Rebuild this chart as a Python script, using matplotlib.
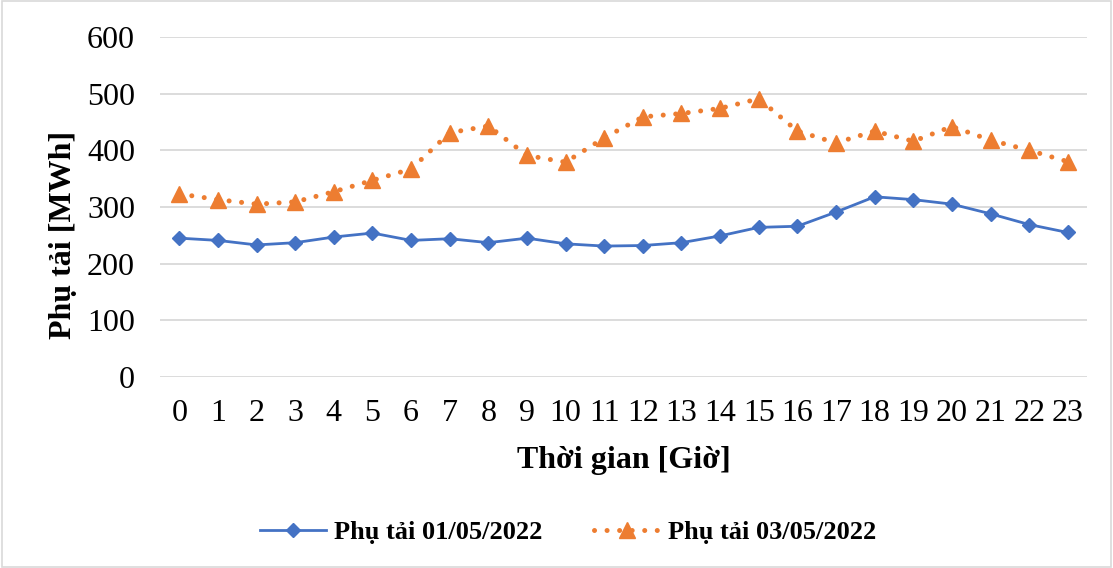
import matplotlib.pyplot as plt
from matplotlib.patches import Rectangle

plt.rcParams['font.family'] = ['Liberation Serif', 'DejaVu Serif']

hours = list(range(24))
load_0105 = [245, 241, 233, 237, 247, 254, 241, 244, 237, 245, 235, 231,
             232, 237, 249, 264, 266, 291, 318, 313, 305, 288, 269, 255]
load_0305 = [323, 313, 305, 309, 327, 347, 367, 431, 443, 391, 379, 422,
             459, 465, 474, 491, 434, 413, 434, 416, 442, 418, 400, 380]
labels = ['Phụ tải 01/05/2022', 'Phụ tải 03/05/2022']

fig = plt.figure(figsize=(11.13, 5.68), dpi=100)
fig.patches.append(Rectangle((0.002, 0.002), 0.996, 0.996, transform=fig.transFigure,
                             fill=False, edgecolor='#d9d9d9', linewidth=1.2))
ax = fig.add_axes([0.1438, 0.3363, 0.8329, 0.5986])

ax.plot(hours, load_0105, color='#4472C4', linewidth=2.0, marker='D',
        markersize=7, label=labels[0])
ax.plot(hours, load_0305, color='#ED7D31', linewidth=3.6, linestyle=(0, (0.01, 2.5)),
        dash_capstyle='round', marker='^', markersize=11, label=labels[1])

ax.set_xlim(-0.5, 23.5)
ax.set_ylim(0, 600)
ax.set_yticks(range(0, 601, 100))
ax.set_xticks(hours)
ax.tick_params(axis='both', length=0, labelsize=23)
ax.tick_params(axis='y', pad=18)
ax.tick_params(axis='x', pad=16)
for s in ax.spines.values():
    s.set_visible(False)
ax.grid(axis='y', color='#d9d9d9', linewidth=1.3)
ax.set_axisbelow(True)

ax.set_ylabel('Phụ tải [MWh]', fontsize=23, fontweight='bold')
ax.yaxis.set_label_coords(-0.088, 0.418)
ax.set_xlabel('Thời gian [Giờ]', fontsize=23, fontweight='bold', labelpad=13)

fig.legend(loc='center', bbox_to_anchor=(0.5105, 0.063), ncol=2, frameon=False,
           prop={'size': 19, 'weight': 'bold'}, handlelength=2.5, columnspacing=1.95,
           handletextpad=0.3)

fig.savefig('out.png', dpi=100)
